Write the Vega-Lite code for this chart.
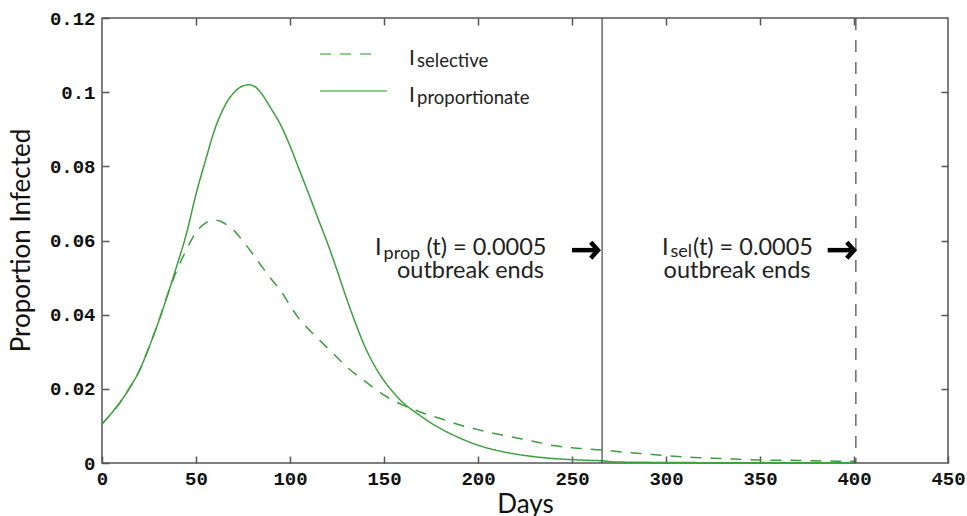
{
  "$schema": "https://vega.github.io/schema/vega-lite/v6.json",
  "width": 846,
  "height": 445,
  "autosize": {"type": "none"},
  "padding": {"left": 102, "top": 18, "right": 19, "bottom": 53},
  "background": "white",
  "config": {
    "view": {"stroke": "#555", "strokeWidth": 1.5},
    "axis": {"grid": false, "domain": false, "tickColor": "#555", "tickWidth": 1.5, "labelFlush": false, "labelOverlap": false}
  },
  "datasets": {
    "curves": [
      {"day": 0, "value": 0.0105, "series": "proportionate"},
      {"day": 5, "value": 0.0134, "series": "proportionate"},
      {"day": 10, "value": 0.0166, "series": "proportionate"},
      {"day": 15, "value": 0.0205, "series": "proportionate"},
      {"day": 20, "value": 0.025, "series": "proportionate"},
      {"day": 25, "value": 0.0312, "series": "proportionate"},
      {"day": 30, "value": 0.038, "series": "proportionate"},
      {"day": 35, "value": 0.0455, "series": "proportionate"},
      {"day": 40, "value": 0.0535, "series": "proportionate"},
      {"day": 45, "value": 0.062, "series": "proportionate"},
      {"day": 50, "value": 0.0725, "series": "proportionate"},
      {"day": 55, "value": 0.0815, "series": "proportionate"},
      {"day": 60, "value": 0.09, "series": "proportionate"},
      {"day": 65, "value": 0.096, "series": "proportionate"},
      {"day": 70, "value": 0.0998, "series": "proportionate"},
      {"day": 75, "value": 0.1017, "series": "proportionate"},
      {"day": 78, "value": 0.102, "series": "proportionate"},
      {"day": 81, "value": 0.1016, "series": "proportionate"},
      {"day": 85, "value": 0.0995, "series": "proportionate"},
      {"day": 90, "value": 0.0955, "series": "proportionate"},
      {"day": 95, "value": 0.0912, "series": "proportionate"},
      {"day": 100, "value": 0.0855, "series": "proportionate"},
      {"day": 105, "value": 0.079, "series": "proportionate"},
      {"day": 110, "value": 0.0725, "series": "proportionate"},
      {"day": 115, "value": 0.0658, "series": "proportionate"},
      {"day": 120, "value": 0.0592, "series": "proportionate"},
      {"day": 125, "value": 0.052, "series": "proportionate"},
      {"day": 130, "value": 0.0445, "series": "proportionate"},
      {"day": 135, "value": 0.0375, "series": "proportionate"},
      {"day": 140, "value": 0.0312, "series": "proportionate"},
      {"day": 145, "value": 0.0262, "series": "proportionate"},
      {"day": 150, "value": 0.0222, "series": "proportionate"},
      {"day": 155, "value": 0.019, "series": "proportionate"},
      {"day": 160, "value": 0.0163, "series": "proportionate"},
      {"day": 165, "value": 0.0143, "series": "proportionate"},
      {"day": 170, "value": 0.0125, "series": "proportionate"},
      {"day": 175, "value": 0.0108, "series": "proportionate"},
      {"day": 180, "value": 0.0093, "series": "proportionate"},
      {"day": 190, "value": 0.0068, "series": "proportionate"},
      {"day": 200, "value": 0.0048, "series": "proportionate"},
      {"day": 210, "value": 0.0034, "series": "proportionate"},
      {"day": 220, "value": 0.0024, "series": "proportionate"},
      {"day": 230, "value": 0.0017, "series": "proportionate"},
      {"day": 240, "value": 0.0012, "series": "proportionate"},
      {"day": 250, "value": 0.0009, "series": "proportionate"},
      {"day": 260, "value": 0.0007, "series": "proportionate"},
      {"day": 266, "value": 0.0006, "series": "proportionate"},
      {"day": 272, "value": 0.0003, "series": "proportionate"},
      {"day": 285, "value": 0.0002, "series": "proportionate"},
      {"day": 320, "value": 0.0001, "series": "proportionate"},
      {"day": 400, "value": 0.0001, "series": "proportionate"},
      {"day": 0, "value": 0.0105, "series": "selective"},
      {"day": 5, "value": 0.0134, "series": "selective"},
      {"day": 10, "value": 0.0166, "series": "selective"},
      {"day": 15, "value": 0.0205, "series": "selective"},
      {"day": 20, "value": 0.025, "series": "selective"},
      {"day": 25, "value": 0.0312, "series": "selective"},
      {"day": 30, "value": 0.038, "series": "selective"},
      {"day": 35, "value": 0.0456, "series": "selective"},
      {"day": 40, "value": 0.0522, "series": "selective"},
      {"day": 45, "value": 0.0576, "series": "selective"},
      {"day": 50, "value": 0.0622, "series": "selective"},
      {"day": 55, "value": 0.0647, "series": "selective"},
      {"day": 60, "value": 0.0655, "series": "selective"},
      {"day": 63, "value": 0.0652, "series": "selective"},
      {"day": 67, "value": 0.064, "series": "selective"},
      {"day": 70, "value": 0.0628, "series": "selective"},
      {"day": 75, "value": 0.0598, "series": "selective"},
      {"day": 80, "value": 0.0565, "series": "selective"},
      {"day": 85, "value": 0.053, "series": "selective"},
      {"day": 90, "value": 0.0496, "series": "selective"},
      {"day": 95, "value": 0.0465, "series": "selective"},
      {"day": 100, "value": 0.0425, "series": "selective"},
      {"day": 105, "value": 0.0388, "series": "selective"},
      {"day": 110, "value": 0.036, "series": "selective"},
      {"day": 115, "value": 0.0335, "series": "selective"},
      {"day": 120, "value": 0.031, "series": "selective"},
      {"day": 125, "value": 0.0285, "series": "selective"},
      {"day": 130, "value": 0.026, "series": "selective"},
      {"day": 140, "value": 0.022, "series": "selective"},
      {"day": 150, "value": 0.0183, "series": "selective"},
      {"day": 160, "value": 0.0156, "series": "selective"},
      {"day": 165, "value": 0.0146, "series": "selective"},
      {"day": 170, "value": 0.0136, "series": "selective"},
      {"day": 180, "value": 0.012, "series": "selective"},
      {"day": 190, "value": 0.0103, "series": "selective"},
      {"day": 200, "value": 0.009, "series": "selective"},
      {"day": 210, "value": 0.0078, "series": "selective"},
      {"day": 220, "value": 0.0068, "series": "selective"},
      {"day": 230, "value": 0.0058, "series": "selective"},
      {"day": 240, "value": 0.0047, "series": "selective"},
      {"day": 250, "value": 0.0041, "series": "selective"},
      {"day": 260, "value": 0.0037, "series": "selective"},
      {"day": 270, "value": 0.0033, "series": "selective"},
      {"day": 280, "value": 0.0028, "series": "selective"},
      {"day": 290, "value": 0.0024, "series": "selective"},
      {"day": 300, "value": 0.002, "series": "selective"},
      {"day": 315, "value": 0.0015, "series": "selective"},
      {"day": 330, "value": 0.0012, "series": "selective"},
      {"day": 350, "value": 0.0008, "series": "selective"},
      {"day": 370, "value": 0.0007, "series": "selective"},
      {"day": 390, "value": 0.0005, "series": "selective"},
      {"day": 400, "value": 0.0005, "series": "selective"}
    ],
    "ends": [
      {"day": 266, "series": "proportionate"},
      {"day": 401, "series": "selective"}
    ],
    "legendLines": [
      {"x1": 116, "x2": 146.3, "y": 0.1103, "series": "selective"},
      {"x1": 116, "x2": 151.6, "y": 0.1003, "series": "proportionate"}
    ],
    "arrows": [
      {"x1": 250, "x2": 263.8, "y": 0.0574},
      {"x1": 386, "x2": 400, "y": 0.0574}
    ],
    "bigLeft": [
      {"day": 145.2, "value": 0.0561, "text": "I"},
      {"day": 297.9, "value": 0.0561, "text": "I"},
      {"day": 314.4, "value": 0.0561, "text": "(t) = 0.0005"},
      {"day": 298.7, "value": 0.0498, "text": "outbreak ends"}
    ],
    "bigRight": [
      {"day": 236.4, "value": 0.0561, "text": "(t) = 0.0005"},
      {"day": 235.1, "value": 0.0498, "text": "outbreak ends"}
    ],
    "subs": [
      {"day": 149.8, "value": 0.0551, "text": "prop"},
      {"day": 302.4, "value": 0.0555, "text": "sel"}
    ],
    "legendBig": [
      {"day": 163.3, "value": 0.1073, "text": "I"},
      {"day": 163.3, "value": 0.0974, "text": "I"}
    ],
    "legendSub": [
      {"day": 167.6, "value": 0.1067, "text": "selective"},
      {"day": 167.6, "value": 0.0968, "text": "proportionate"}
    ]
  },
  "layer": [
    {
      "data": {"name": "curves"},
      "mark": {"type": "line", "color": "#3d9e3d", "strokeWidth": 1.5, "interpolate": "monotone"},
      "encoding": {
        "x": {
          "field": "day", "type": "quantitative",
          "scale": {"domain": [0, 450], "nice": false},
          "axis": {
            "orient": "bottom", "values": [0, 50, 100, 150, 200, 250, 300, 350, 400, 450],
            "tickSize": -7, "labelPadding": 13,
            "labelFont": "Liberation Mono", "labelFontWeight": "bold", "labelFontSize": 19, "labelColor": "#111",
            "title": "Days", "titleFont": "Lato", "titleFontSize": 26, "titleFontWeight": "normal", "titleColor": "#111",
            "titleY": 49, "titleBaseline": "alphabetic"
          }
        },
        "y": {
          "field": "value", "type": "quantitative",
          "scale": {"domain": [0, 0.12], "nice": false},
          "axis": {
            "orient": "left", "values": [0, 0.02, 0.04, 0.06, 0.08, 0.1, 0.12],
            "labelExpr": "format(datum.value, '.2~f')",
            "tickSize": -7, "labelPadding": 14,
            "labelFont": "Liberation Mono", "labelFontWeight": "bold", "labelFontSize": 19, "labelColor": "#111",
            "title": "Proportion Infected", "titleFont": "Lato", "titleFontSize": 26, "titleFontWeight": "normal", "titleColor": "#111",
            "titleX": -73, "titleY": 222, "titleBaseline": "alphabetic"
          }
        },
        "detail": {"field": "series"},
        "strokeDash": {
          "field": "series", "type": "nominal",
          "scale": {"domain": ["proportionate", "selective"], "range": [[1, 0], [11, 9]]},
          "legend": null
        }
      }
    },
    {
      "data": {"name": "curves"},
      "mark": {"type": "line", "opacity": 0},
      "encoding": {
        "x": {
          "field": "day", "type": "quantitative",
          "axis": {"orient": "top", "values": [50, 100, 150, 200, 250, 300, 350, 400], "tickSize": -7, "labels": false, "title": null}
        },
        "y": {
          "field": "value", "type": "quantitative",
          "axis": {"orient": "right", "values": [0.02, 0.04, 0.06, 0.08, 0.1], "tickSize": -7, "labels": false, "title": null}
        }
      }
    },
    {
      "data": {"name": "ends"},
      "transform": [{"filter": "datum.series == 'proportionate'"}],
      "mark": {"type": "rule", "color": "#444", "strokeWidth": 1.2},
      "encoding": {"x": {"field": "day", "type": "quantitative", "axis": null}}
    },
    {
      "data": {"name": "ends"},
      "transform": [{"filter": "datum.series == 'selective'"}],
      "mark": {"type": "rule", "color": "#444", "strokeWidth": 1.2, "strokeDash": [12, 10]},
      "encoding": {"x": {"field": "day", "type": "quantitative", "axis": null}}
    },
    {
      "data": {"name": "legendLines"},
      "mark": {"type": "rule", "color": "#6cbf6c", "strokeWidth": 1.6},
      "encoding": {
        "x": {"field": "x1", "type": "quantitative", "axis": null},
        "x2": {"field": "x2"},
        "y": {"field": "y", "type": "quantitative", "axis": null},
        "strokeDash": {
          "field": "series", "type": "nominal",
          "scale": {"domain": ["proportionate", "selective"], "range": [[1, 0], [11, 9]]},
          "legend": null
        }
      }
    },
    {
      "data": {"name": "arrows"},
      "mark": {"type": "rule", "color": "#000", "strokeWidth": 4.5},
      "encoding": {
        "x": {"field": "x1", "type": "quantitative", "axis": null},
        "x2": {"field": "x2"},
        "y": {"field": "y", "type": "quantitative", "axis": null}
      }
    },
    {
      "data": {"name": "arrows"},
      "mark": {"type": "point", "shape": "M -0.9 -1 L 0 0 L -0.9 1", "size": 256, "filled": false, "stroke": "#000", "strokeWidth": 4.5, "opacity": 1, "strokeJoin": "miter"},
      "encoding": {
        "x": {"field": "x2", "type": "quantitative", "axis": null},
        "y": {"field": "y", "type": "quantitative", "axis": null}
      }
    },
    {
      "data": {"name": "bigLeft"},
      "mark": {"type": "text", "align": "left", "baseline": "alphabetic", "font": "Lato", "fontSize": 23.5, "color": "#222"},
      "encoding": {
        "x": {"field": "day", "type": "quantitative", "axis": null},
        "y": {"field": "value", "type": "quantitative", "axis": null},
        "text": {"field": "text"}
      }
    },
    {
      "data": {"name": "bigRight"},
      "mark": {"type": "text", "align": "right", "baseline": "alphabetic", "font": "Lato", "fontSize": 23.5, "color": "#222"},
      "encoding": {
        "x": {"field": "day", "type": "quantitative", "axis": null},
        "y": {"field": "value", "type": "quantitative", "axis": null},
        "text": {"field": "text"}
      }
    },
    {
      "data": {"name": "subs"},
      "mark": {"type": "text", "align": "left", "baseline": "alphabetic", "font": "Lato", "fontSize": 18, "color": "#222"},
      "encoding": {
        "x": {"field": "day", "type": "quantitative", "axis": null},
        "y": {"field": "value", "type": "quantitative", "axis": null},
        "text": {"field": "text"}
      }
    },
    {
      "data": {"name": "legendBig"},
      "mark": {"type": "text", "align": "left", "baseline": "alphabetic", "font": "Lato", "fontSize": 21, "color": "#222"},
      "encoding": {
        "x": {"field": "day", "type": "quantitative", "axis": null},
        "y": {"field": "value", "type": "quantitative", "axis": null},
        "text": {"field": "text"}
      }
    },
    {
      "data": {"name": "legendSub"},
      "mark": {"type": "text", "align": "left", "baseline": "alphabetic", "font": "Lato", "fontSize": 18.5, "color": "#222"},
      "encoding": {
        "x": {"field": "day", "type": "quantitative", "axis": null},
        "y": {"field": "value", "type": "quantitative", "axis": null},
        "text": {"field": "text"}
      }
    }
  ],
  "resolve": {"axis": {"x": "independent", "y": "independent"}}
}
